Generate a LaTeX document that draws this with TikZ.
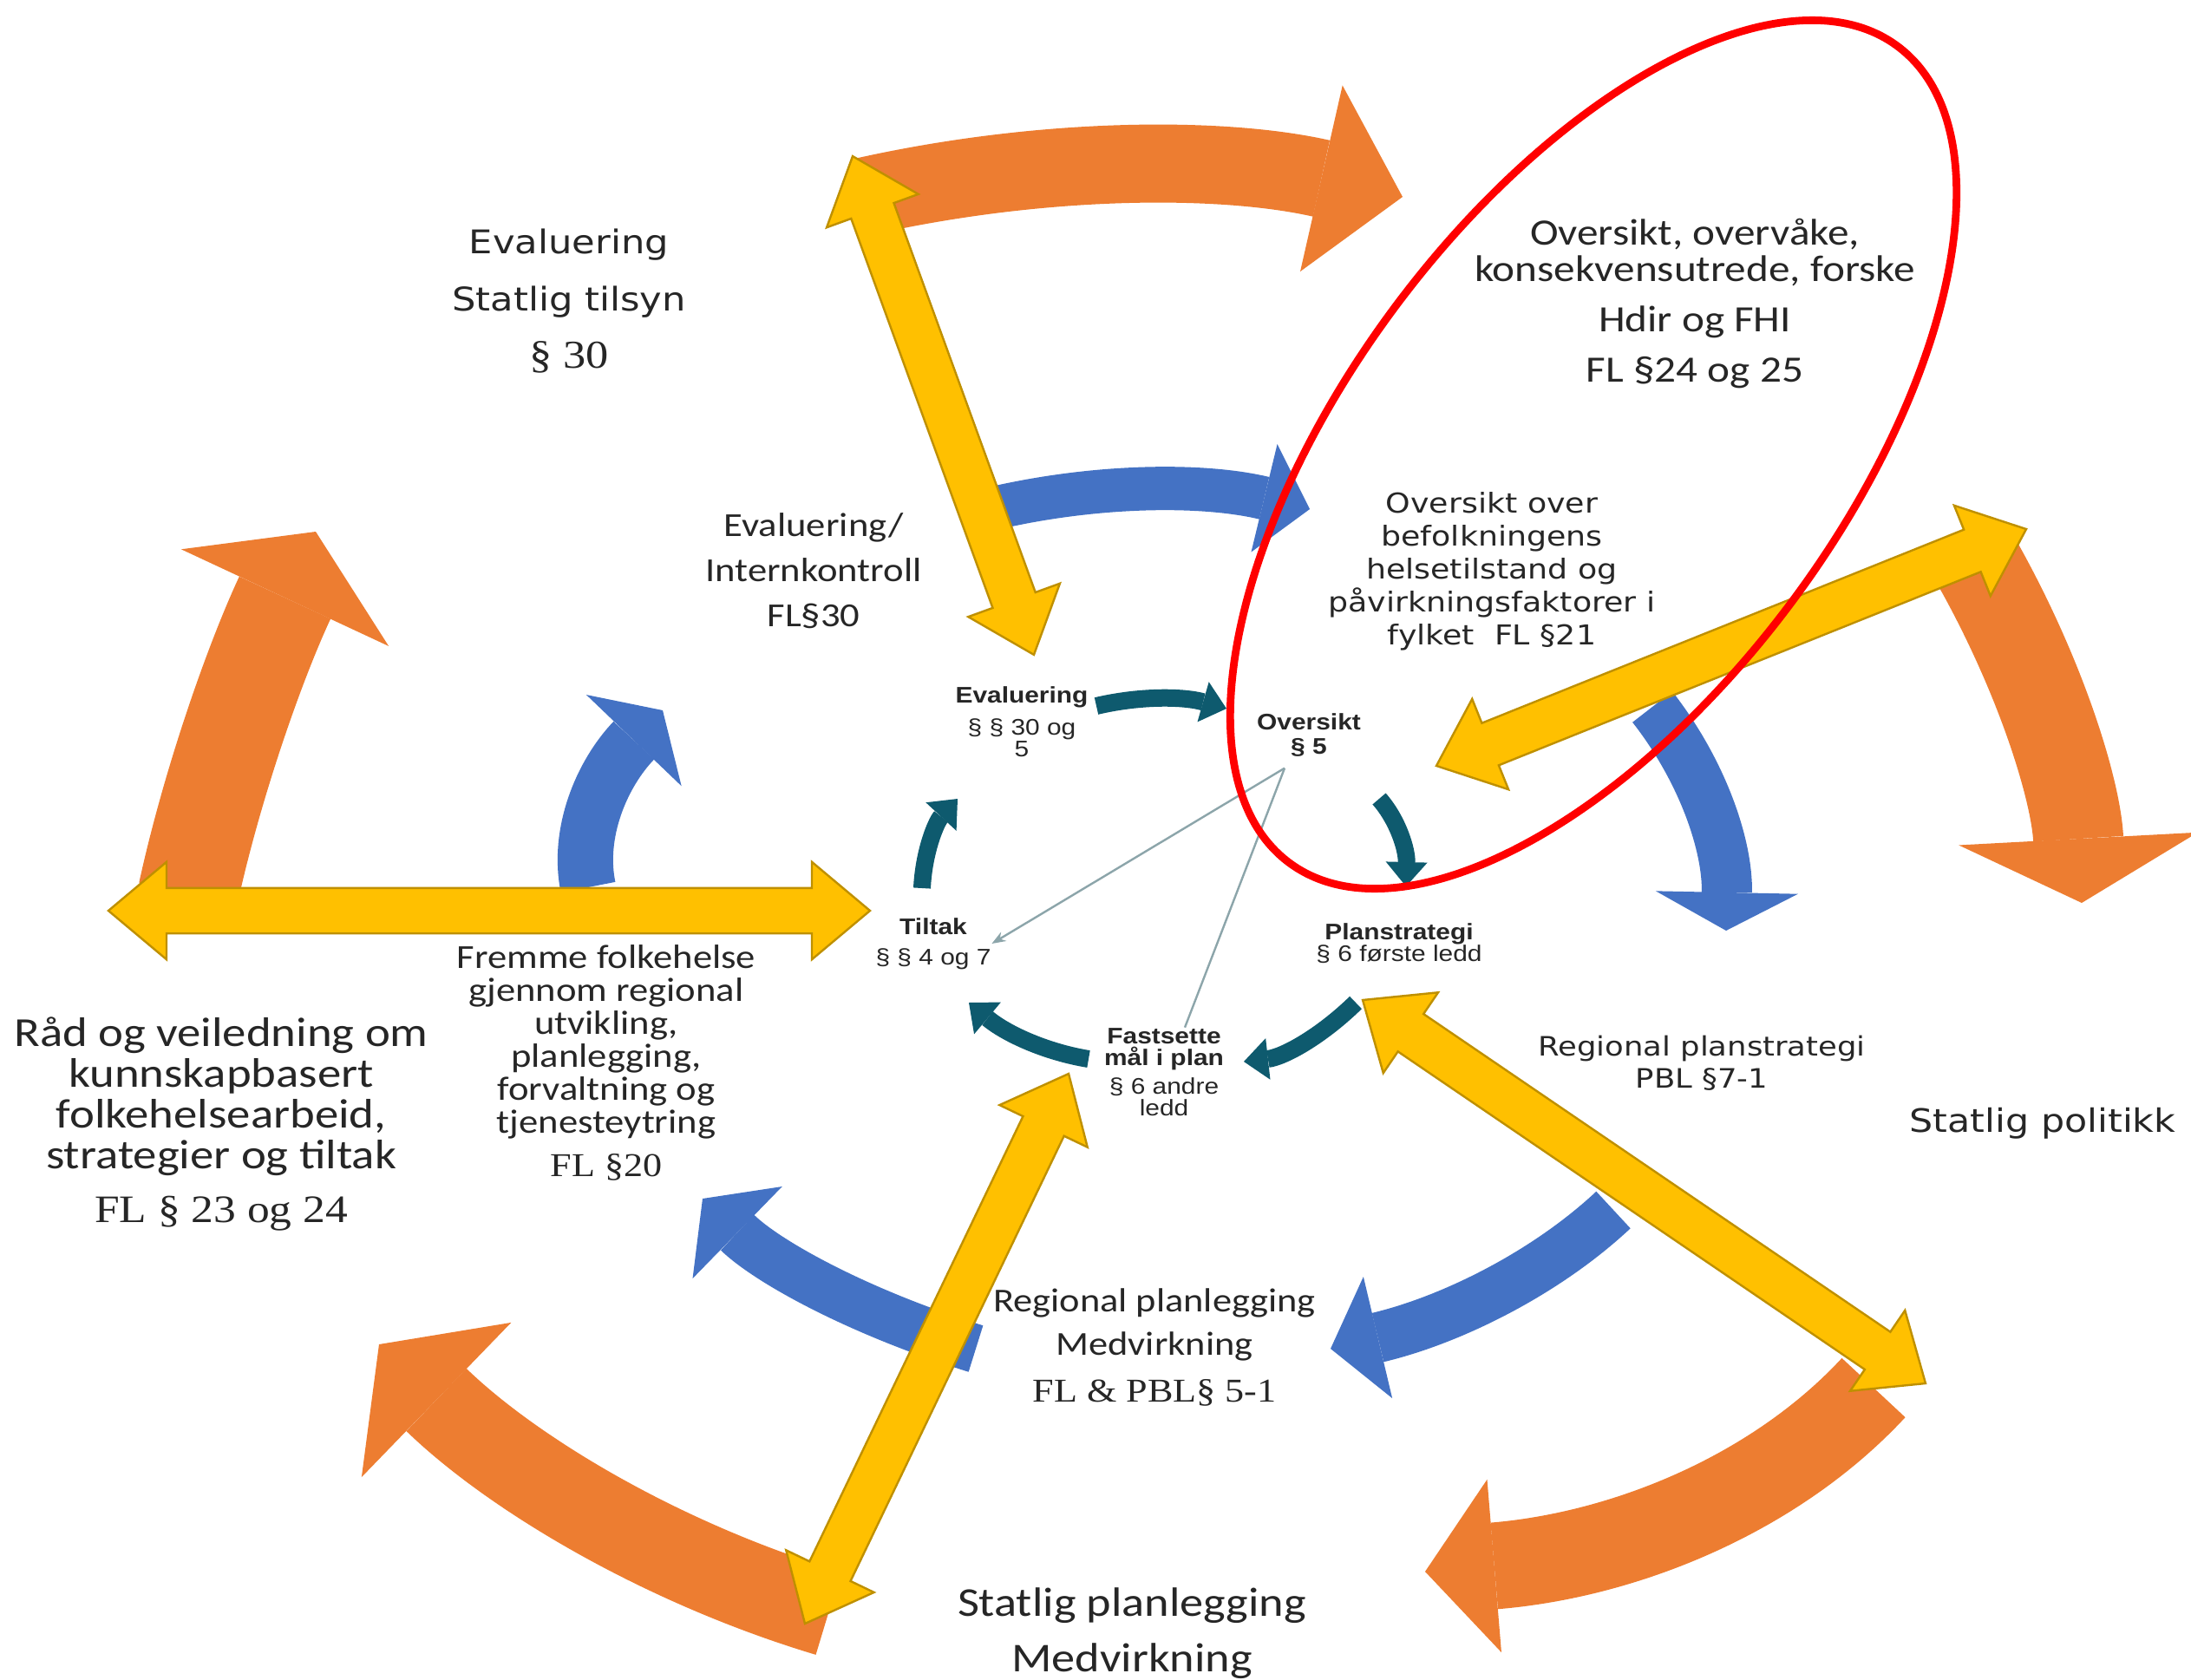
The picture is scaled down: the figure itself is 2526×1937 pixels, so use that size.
\documentclass[tikz,border=0pt]{standalone}
\usepackage{fontspec}
\setmainfont{Carlito}
\newfontfamily\verdfont{DejaVu Sans}
\newfontfamily\timesfont{Liberation Serif}
\newfontfamily\arialfont{Liberation Sans}
\usetikzlibrary{arrows.meta}
\usetikzlibrary{shapes.arrows}
\usetikzlibrary{positioning}
\definecolor{morange}{RGB}{237,125,49}
\definecolor{mblue}{RGB}{68,114,196}
\definecolor{mteal}{RGB}{14,90,110}
\definecolor{myellow}{RGB}{255,192,0}
\definecolor{mgold}{RGB}{191,144,0}
\definecolor{mgray}{RGB}{140,165,170}
\definecolor{mred}{RGB}{255,0,0}
\definecolor{mtext}{RGB}{38,38,38}

\begin{document}
\begin{tikzpicture}[x=0.25pt, y=-0.25pt,
    txt/.style={align=center, inner sep=0pt, xscale=1.15, text=mtext},
    ctr/.style={txt, font=\arialfont\fontsize{6.5}{6.25}\selectfont},
    block/.style n args={4}{draw=#1, line width=#2, -{Triangle[width=#3, length=#4, line width=0pt]}},
    tealarc/.style={draw=mteal, line width=5pt, -{Triangle[width=12pt, length=7pt, line width=0pt]}},
    yarrow/.style={double arrow, draw=mgold, fill=myellow, line width=0.6pt, inner xsep=0pt, inner ysep=6.25pt,
      double arrow head extend=7.5pt, double arrow tip angle=80},
    thinline/.style={draw=mgray, line width=0.6pt},
    redring/.style={draw=mred, line width=2.2pt}]

    \fill [white] (0, 0) rectangle (2526, 1937);
    \useasboundingbox (0, 0) rectangle (2526, 1937);

    % outer ring
    \draw [block={morange}{22.5pt}{55pt}{24pt}] (990, 228) .. controls (1201, 180) and (1410, 180) .. (1617, 227);
    \draw [block={morange}{26pt}{69pt}{18.5pt}] (2280, 650) .. controls (2353, 780) and (2393, 910) .. (2400, 1041);
    \draw [block={morange}{25pt}{50pt}{20pt}] (2160, 1600) .. controls (2046, 1723) and (1873, 1793) .. (1643, 1812);
    \draw [block={morange}{25pt}{62pt}{23pt}] (955, 1860) .. controls (765, 1803) and (592, 1700) .. (437, 1550);
    \draw [block={morange}{29pt}{66pt}{21pt}] (217, 1030) .. controls (245, 902) and (294, 763) .. (364, 613);

    % middle ring
    \draw [block={mblue}{12.5pt}{32pt}{13.5pt}] (1150, 585) .. controls (1270, 558) and (1390, 558) .. (1510, 587);
    \draw [block={mblue}{14.5pt}{41pt}{11pt}] (1905, 815) .. controls (1963, 889) and (1992, 975) .. (1990, 1073);
    \draw [block={mblue}{14.5pt}{36pt}{14pt}] (1860, 1395) .. controls (1782, 1468) and (1673, 1522) .. (1534, 1555);
    \draw [block={mblue}{14pt}{37pt}{14pt}] (1125, 1555) .. controls (990, 1513) and (885, 1455) .. (810, 1382);
    \draw [block={mblue}{16pt}{38pt}{12pt}] (678, 1023) .. controls (665, 960) and (694, 892) .. (764, 819);

    % inner ring
    \draw [tealarc] (1264, 814) .. controls (1315, 802) and (1365, 803) .. (1414, 817);
    \draw [tealarc] (1590, 921) .. controls (1612, 946) and (1622, 980) .. (1621, 1022);
    \draw [tealarc] (1563, 1156) .. controls (1522, 1196) and (1479, 1219) .. (1434, 1224);
    \draw [tealarc] (1255, 1221) .. controls (1206, 1213) and (1160, 1192) .. (1117, 1156);
    \draw [tealarc] (1063, 1024) .. controls (1065, 982) and (1079, 948) .. (1104, 921);

    % double arrows
    \node [yarrow, rotate=-70.02, minimum height=152.9pt] (yTop) at (1087.5, 467.5) {};
    \node [yarrow, rotate=21.87, minimum height=183.2pt] (yRight) at (1996, 746.5) {};
    \node [yarrow, rotate=-34.26, minimum height=196.3pt] (yLowRight) at (1895.5, 1374) {};
    \node [yarrow, rotate=64.38, minimum height=175.8pt] (yBottom) at (1080, 1555) {};
    \node [yarrow, minimum height=219.5pt] (yLeft) at (564, 1050) {};

    % centre cycle
    \node [ctr] (evalC) at (1178, 832) {\textbf{Evaluering}\\[3pt]§ § 30 og\\5};
    \node [ctr, font=\arialfont\fontsize{6.5}{7}\selectfont] (overC) at (1509, 848) {\textbf{Oversikt}\\\textbf{§ 5}};
    \node [ctr] (planC) at (1613, 1088) {\textbf{Planstrategi}\\§ 6 første ledd};
    \node [ctr] (fastC) at (1342, 1236) {\textbf{Fastsette}\\\textbf{mål i plan}\\[2pt]§ 6 andre\\ledd};
    \node [ctr] (tiltakC) at (1076, 1088) {\textbf{Tiltak}\\[2.5pt]§ § 4 og 7};

    \coordinate [below left=3pt and 7pt of overC.south] (ovFoot);
    \draw [thinline, -{Stealth[length=4pt, width=3pt]}] (ovFoot) -- (tiltakC.east);
    \draw [thinline] (ovFoot) -- ([xshift=6pt]fastC.north);

    % labels
    \node [txt, font=\verdfont\fontsize{9.4}{16.5}\selectfont] (evalStat) at (656, 347)
      {Evaluering\\Statlig tilsyn\\{\timesfont\fontsize{11.4}{16}\selectfont § 30}};
    \node [txt, font=\fontsize{9.7}{13}\selectfont] (evalIntern) at (938, 658)
      {Evaluering/\\Internkontroll\\FL§30};
    \node [txt, font=\fontsize{10.7}{10.5}\selectfont] (oversiktHdir) at (1954, 350)
      {Oversikt, overvåke,\\konsekvensutrede, forske\\[4pt]Hdir og FHI\\[4pt]FL §24 og 25};
    \node [txt, font=\verdfont\fontsize{7.9}{9.5}\selectfont] (oversiktBef) at (1720, 659)
      {Oversikt over\\befolkningens\\helsetilstand og\\påvirkningsfaktorer i\\fylket~ FL §21};
    \node [txt, font=\verdfont\fontsize{7.7}{9.3}\selectfont] (regPlanstr) at (1962, 1226)
      {Regional planstrategi\\PBL §7-1};
    \node [txt, font=\verdfont\fontsize{9.3}{11}\selectfont] (statPol) at (2355, 1295)
      {Statlig politikk};
    \node [txt, font=\fontsize{9.7}{9.5}\selectfont] (fremme) at (699, 1225)
      {Fremme folkehelse\\gjennom regional\\utvikling,\\planlegging,\\forvaltning og\\tjenesteytring\\[3pt]{\timesfont\fontsize{9.6}{9.5}\selectfont FL §20}};
    \node [txt, font=\fontsize{11.9}{11.75}\selectfont] (raad) at (255, 1296)
      {Råd og veiledning om\\kunnskapbasert\\folkehelsearbeid,\\strategier og tiltak\\[3.75pt]{\timesfont\fontsize{11.2}{11.75}\selectfont FL § 23 og 24}};
    \node [txt, font=\fontsize{9.65}{12.5}\selectfont] (regPlanl) at (1331, 1553)
      {Regional planlegging\\Medvirkning\\[1pt]{\timesfont\fontsize{9.6}{12.5}\selectfont FL \& PBL§ 5-1}};
    \node [txt, font=\fontsize{11.8}{16}\selectfont] (statPlanl) at (1305, 1883)
      {Statlig planlegging\\Medvirkning};

    % highlight
    \draw [redring, rotate around={53.3:(1837, 524)}] (1837, 524) ellipse [x radius=146.75pt, y radius=71.25pt];
\end{tikzpicture}
\end{document}
